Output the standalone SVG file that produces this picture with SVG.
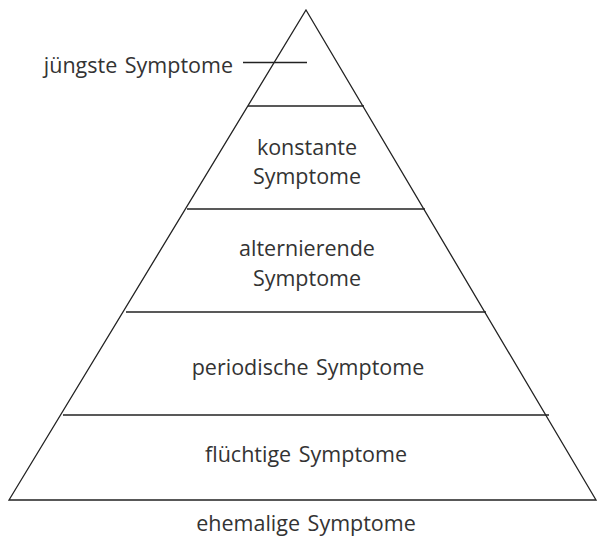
<svg xmlns="http://www.w3.org/2000/svg" width="597" height="538" viewBox="0 0 597 538">
<style>
.ln{stroke:#222;stroke-width:1.3;fill:none}
.t{font-family:"Open Sans","Noto Sans",sans-serif;font-size:21.5px;fill:#333;text-anchor:middle;word-spacing:2px}
</style>
<rect width="597" height="538" fill="#fff"/>
<g id="pyramid">
<polygon class="ln" points="306,10 596,500 9,500"/>
</g>
<g id="connectors">
<line class="ln" x1="248" y1="106" x2="364" y2="106"/>
<line class="ln" x1="187" y1="209" x2="425" y2="209"/>
<line class="ln" x1="126" y1="312" x2="486" y2="312"/>
<line class="ln" x1="63" y1="415" x2="549" y2="415"/>
<line class="ln" x1="243" y1="62.5" x2="307" y2="62.5"/>
</g>
<g id="n1"><text class="t" x="233" y="73" style="text-anchor:end">jüngste Symptome</text></g>
<g id="n2"><text class="t" x="307" y="155">konstante</text><text class="t" x="307" y="184">Symptome</text></g>
<g id="n3"><text class="t" x="307" y="256">alternierende</text><text class="t" x="307" y="286">Symptome</text></g>
<g id="n4"><text class="t" x="308" y="375">periodische Symptome</text></g>
<g id="n5"><text class="t" x="306" y="462">flüchtige Symptome</text></g>
<g id="n6"><text class="t" x="306" y="531">ehemalige Symptome</text></g>
</svg>
